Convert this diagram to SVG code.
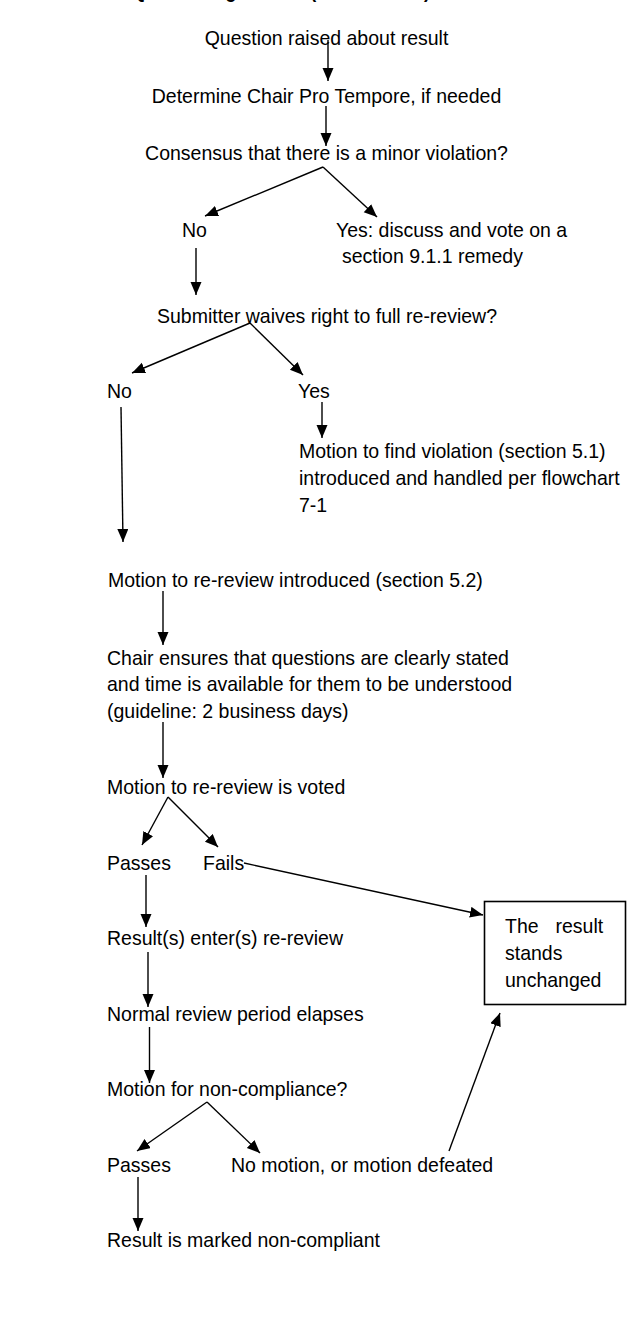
<svg xmlns="http://www.w3.org/2000/svg" width="644" height="1319" viewBox="0 0 644 1319">
<style>
text{font-family:"Liberation Sans",Arial,sans-serif;font-size:19.5px;fill:#000;transform-box:fill-box;transform-origin:50% 85%;transform:scaleY(1.06)}
.title{font-weight:bold;transform:none}
.c{fill:none;stroke:#000;stroke-width:1.4}
.box{fill:#fff;stroke:#000;stroke-width:1.6}
</style>
<defs>
<marker id="ah" markerUnits="userSpaceOnUse" markerWidth="14" markerHeight="12" refX="13" refY="5.5" orient="auto">
<path d="M0,0 L13,5.5 L0,11 z" fill="#000"/>
</marker>
</defs>
<rect width="644" height="1319" fill="#fff"/>
<g id="title"><text class="title" x="5" y="-2.5" textLength="425" lengthAdjust="spacingAndGlyphs">Flowchart 9-1: Questioning a result (section 9.1.1)</text></g>

<g id="connectors">
<line class="c" x1="328" y1="40" x2="328" y2="81" marker-end="url(#ah)"/>
<line class="c" x1="326" y1="106" x2="326" y2="146" marker-end="url(#ah)"/>
<line class="c" x1="323" y1="167" x2="205" y2="216" marker-end="url(#ah)"/>
<line class="c" x1="323" y1="167" x2="377" y2="217" marker-end="url(#ah)"/>
<line class="c" x1="196" y1="248" x2="196" y2="295" marker-end="url(#ah)"/>
<line class="c" x1="250" y1="323" x2="132" y2="373" marker-end="url(#ah)"/>
<line class="c" x1="250" y1="323" x2="303" y2="375" marker-end="url(#ah)"/>
<line class="c" x1="322" y1="402" x2="322" y2="438" marker-end="url(#ah)"/>
<line class="c" x1="121" y1="407" x2="123" y2="542" marker-end="url(#ah)"/>
<line class="c" x1="163" y1="591" x2="163" y2="645" marker-end="url(#ah)"/>
<line class="c" x1="163" y1="722" x2="163" y2="778" marker-end="url(#ah)"/>
<line class="c" x1="168" y1="797" x2="142" y2="845" marker-end="url(#ah)"/>
<line class="c" x1="168" y1="797" x2="218" y2="847" marker-end="url(#ah)"/>
<line class="c" x1="244" y1="863" x2="483" y2="915" marker-end="url(#ah)"/>
<line class="c" x1="146" y1="875" x2="146" y2="927" marker-end="url(#ah)"/>
<line class="c" x1="148" y1="952" x2="148" y2="1007" marker-end="url(#ah)"/>
<line class="c" x1="149.5" y1="1027" x2="149.5" y2="1083" marker-end="url(#ah)"/>
<line class="c" x1="207" y1="1102" x2="137" y2="1151" marker-end="url(#ah)"/>
<line class="c" x1="207" y1="1102" x2="260" y2="1153" marker-end="url(#ah)"/>
<line class="c" x1="449" y1="1151" x2="500" y2="1013" marker-end="url(#ah)"/>
<line class="c" x1="138" y1="1177" x2="138" y2="1231" marker-end="url(#ah)"/>
</g>

<g id="n-question"><text x="326.5" y="45" text-anchor="middle">Question raised about result</text></g>
<g id="n-chair-pro-tem"><text x="326.5" y="103" text-anchor="middle">Determine Chair Pro Tempore, if needed</text></g>
<g id="n-consensus"><text x="326.5" y="160" text-anchor="middle">Consensus that there is a minor violation?</text></g>
<g id="n-no1"><text x="182" y="237">No</text></g>
<g id="n-yes1"><text x="336" y="237">Yes: discuss and vote on a</text><text x="342" y="263">section 9.1.1 remedy</text></g>
<g id="n-submitter"><text x="157" y="323">Submitter waives right to full re-review?</text></g>
<g id="n-no2"><text x="107" y="398">No</text></g>
<g id="n-yes2"><text x="298" y="398">Yes</text></g>
<g id="n-motion-violation"><text x="299" y="458">Motion to find violation (section 5.1)</text><text x="299" y="485">introduced and handled per flowchart</text><text x="299" y="512">7-1</text></g>
<g id="n-motion-rereview"><text x="108" y="587">Motion to re-review introduced (section 5.2)</text></g>
<g id="n-chair-ensures"><text x="107" y="665">Chair ensures that questions are clearly stated</text><text x="107" y="691.5">and time is available for them to be understood</text><text x="107" y="718">(guideline: 2 business days)</text></g>
<g id="n-voted"><text x="107" y="794">Motion to re-review is voted</text></g>
<g id="n-passes1"><text x="107" y="870">Passes</text></g>
<g id="n-fails"><text x="203" y="870">Fails</text></g>
<g id="n-result-stands"><rect class="box" x="484.5" y="901.5" width="141" height="103"/><text x="505" y="933">The</text><text x="555.5" y="933">result</text><text x="505" y="960">stands</text><text x="505" y="987">unchanged</text></g>
<g id="n-enter-rereview"><text x="107" y="945">Result(s) enter(s) re-review</text></g>
<g id="n-period"><text x="107" y="1021">Normal review period elapses</text></g>
<g id="n-noncompliance"><text x="107" y="1096">Motion for non-compliance?</text></g>
<g id="n-passes2"><text x="107" y="1172">Passes</text></g>
<g id="n-nomotion"><text x="231" y="1172">No motion, or motion defeated</text></g>
<g id="n-marked"><text x="107" y="1247">Result is marked non-compliant</text></g>
</svg>
